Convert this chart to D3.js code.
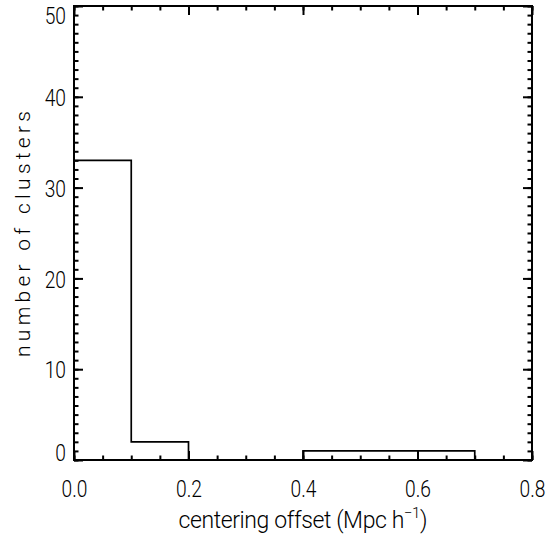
<!DOCTYPE html>
<html>
<head>
<meta charset="utf-8">
<script src="https://cdn.jsdelivr.net/npm/d3@7"></script>
<style>
  body { margin: 0; background: #fff; }
  text { font-family: Roboto, "DejaVu Sans", sans-serif; font-weight: 300; fill: #000; }
</style>
</head>
<body>
<div id="chart"></div>
<script>
// histogram of centering offsets, bin width 0.1
var binEdges = [0.0, 0.1, 0.2, 0.3, 0.4, 0.5, 0.6, 0.7, 0.8];
var counts = [33, 2, 0, 0, 1, 1, 1, 0];
var xTicks = [0.0, 0.2, 0.4, 0.6, 0.8];
var yTicks = [0, 10, 20, 30, 40, 50];

var svgWidth = 556, svgHeight = 538;
var margin = { top: 6, right: 24, bottom: 78, left: 74 };
var width = svgWidth - margin.left - margin.right;
var height = svgHeight - margin.top - margin.bottom;

var svg = d3.select("#chart").append("svg")
  .attr("width", svgWidth)
  .attr("height", svgHeight);

svg.append("rect")
  .attr("width", svgWidth)
  .attr("height", svgHeight)
  .attr("fill", "#fff");

var chartGroup = svg.append("g")
  .attr("transform", `translate(${margin.left}, ${margin.top})`);

var xLinearScale = d3.scaleLinear().domain([0, 0.8]).range([0, width]);
var yLinearScale = d3.scaleLinear().domain([0, 50]).range([height, 0]);

// minor ticks every 0.05 / 1
var xMinor = d3.range(0, 0.8001, 0.05);
var yMinor = d3.range(0, 50.001, 1);

function styleAxis(g) {
  g.select(".domain").remove();
  g.selectAll(".tick line").attr("stroke", "#000").attr("stroke-width", 2);
}

// squeeze tick labels to look like the narrow IDL font
function narrowLabels(sel) {
  sel.attr("font-size", 24).attr("font-family", null)
    .each(function() {
      var w = this.getComputedTextLength();
      d3.select(this).attr("textLength", w * 0.8).attr("lengthAdjust", "spacingAndGlyphs");
    });
}

// bottom axis with labels
var bottomAxis = d3.axisBottom(xLinearScale)
  .tickValues(xTicks)
  .tickFormat(d3.format(".1f"))
  .tickSizeInner(-9).tickSizeOuter(0).tickPadding(20);
chartGroup.append("g")
  .attr("transform", `translate(0, ${height})`)
  .call(bottomAxis)
  .call(styleAxis)
  .selectAll("text").call(narrowLabels);

chartGroup.append("g")
  .attr("transform", `translate(0, ${height})`)
  .call(d3.axisBottom(xLinearScale).tickValues(xMinor).tickFormat("").tickSizeInner(-4.5).tickSizeOuter(0))
  .call(styleAxis);

// top axis, no labels
chartGroup.append("g")
  .call(d3.axisTop(xLinearScale).tickValues(xTicks).tickFormat("").tickSizeInner(-9).tickSizeOuter(0))
  .call(styleAxis);
chartGroup.append("g")
  .call(d3.axisTop(xLinearScale).tickValues(xMinor).tickFormat("").tickSizeInner(-4.5).tickSizeOuter(0))
  .call(styleAxis);

// left axis with labels
var leftAxis = d3.axisLeft(yLinearScale)
  .tickValues(yTicks)
  .tickSizeInner(-9).tickSizeOuter(0).tickPadding(8);
var yAxis = chartGroup.append("g").call(leftAxis).call(styleAxis);
yAxis.selectAll("text")
  .call(narrowLabels)
  .attr("dy", d => d === 0 ? "0em" : (d === 50 ? "0.72em" : "0.36em"));

chartGroup.append("g")
  .call(d3.axisLeft(yLinearScale).tickValues(yMinor).tickFormat("").tickSizeInner(-4.5).tickSizeOuter(0))
  .call(styleAxis);

// right axis, no labels
chartGroup.append("g")
  .attr("transform", `translate(${width}, 0)`)
  .call(d3.axisRight(yLinearScale).tickValues(yTicks).tickFormat("").tickSizeInner(-9).tickSizeOuter(0))
  .call(styleAxis);
chartGroup.append("g")
  .attr("transform", `translate(${width}, 0)`)
  .call(d3.axisRight(yLinearScale).tickValues(yMinor).tickFormat("").tickSizeInner(-4.5).tickSizeOuter(0))
  .call(styleAxis);

// histogram drawn as steps
var stepData = binEdges.map((e, i) => ({ x: e, y: i < counts.length ? counts[i] : 0 }));
var histLine = d3.line()
  .x(d => xLinearScale(d.x))
  .y(d => yLinearScale(d.y))
  .curve(d3.curveStepAfter);

chartGroup.append("path")
  .datum(stepData)
  .attr("d", histLine)
  .attr("fill", "none")
  .attr("stroke", "#000")
  .attr("stroke-width", 1.7);

// frame
chartGroup.append("rect")
  .attr("width", width)
  .attr("height", height)
  .attr("fill", "none")
  .attr("stroke", "#000")
  .attr("stroke-width", 2);

// axis titles
var xTitle = chartGroup.append("text")
  .attr("x", width / 2)
  .attr("y", height + 68)
  .attr("text-anchor", "middle")
  .attr("font-size", 23)
  .attr("textLength", 249)
  .attr("lengthAdjust", "spacing");
xTitle.append("tspan").text("centering offset (Mpc h");
xTitle.append("tspan").attr("dy", -10).attr("font-size", 15).text("\u22121");
xTitle.append("tspan").attr("dy", 10).text(")");

chartGroup.append("text")
  .attr("transform", "rotate(-90)")
  .attr("x", -height / 2 - 1)
  .attr("y", 30 - margin.left)
  .attr("text-anchor", "middle")
  .attr("font-size", 21)
  .attr("textLength", 246)
  .attr("lengthAdjust", "spacing")
  .text("number of clusters");
</script>
</body>
</html>
